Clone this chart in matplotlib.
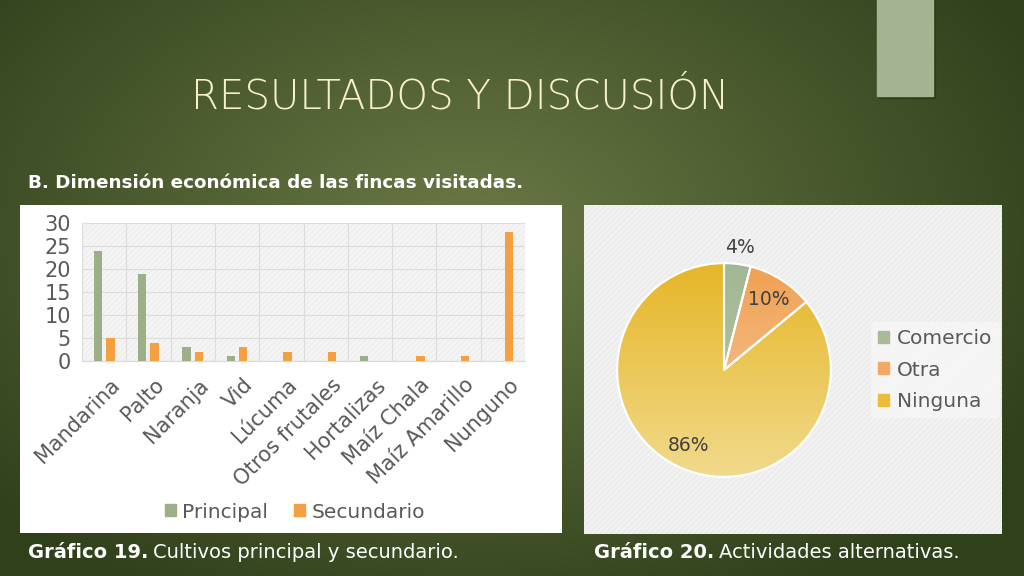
import numpy as np
import matplotlib
matplotlib.use("Agg")
import matplotlib.pyplot as plt
from matplotlib import rcParams
from matplotlib.patches import Rectangle, Patch

rcParams['font.family'] = ['DejaVu Sans']
rcParams['hatch.linewidth'] = 0.4

# data
cultivos = ['Mandarina', 'Palto', 'Naranja', 'Vid', 'Lúcuma', 'Otros frutales',
            'Hortalizas', 'Maíz Chala', 'Maíz Amarillo', 'Nunguno']
principal = [24, 19, 3, 1, 0, 0, 1, 0, 0, 0]
secundario = [5, 4, 2, 3, 2, 2, 0, 1, 1, 28]

actividades = ['Comercio', 'Otra', 'Ninguna']
porcentajes = [4, 10, 86]

W, H = 1024, 576
fig = plt.figure(figsize=(W / 100, H / 100), dpi=100)


def box(x0, y0, x1, y1):
    # pixel box (top-left origin) -> figure fraction
    return [x0 / W, 1 - y1 / H, (x1 - x0) / W, (y1 - y0) / H]


# slide background: radial olive gradient
bg = fig.add_axes([0, 0, 1, 1], zorder=-10)
yy, xx = np.mgrid[0:H, 0:W]
d = np.sqrt(((xx - 470) / 640.0) ** 2 + ((yy - 230) / 420.0) ** 2)
d = np.clip(d, 0, 1)
c0 = np.array([0x6a, 0x79, 0x45]) / 255
c1 = np.array([0x30, 0x40, 0x1b]) / 255
img = c0[None, None, :] * (1 - d[..., None]) + c1[None, None, :] * d[..., None]
bg.imshow(img, extent=(0, W, H, 0), aspect='auto')
bg.set_xlim(0, W)
bg.set_ylim(H, 0)
bg.axis('off')
bg.add_patch(Rectangle((879, -2), 56, 100, color='#2a3514', alpha=0.5))
bg.add_patch(Rectangle((877, -2), 56, 98, color='#a4b391'))
bg.add_patch(Rectangle((20, 205), 542, 328, facecolor='white', edgecolor='none'))
bg.add_patch(Rectangle((584, 205), 418, 329, facecolor='#f1f1f1',
                       edgecolor='#e4e4e4', hatch='//////', linewidth=0))

fig.text(460 / W, 1 - 97 / H, 'RESULTADOS Y DISCUSIÓN', color='#f7f1c9',
         fontsize=29, fontweight=200, ha='center', va='center')
fig.text(28 / W, 1 - 183 / H, 'B. Dimensión económica de las fincas visitadas.',
         color='white', fontsize=13.2, fontweight='bold', va='center')

# bar chart
ax = fig.add_axes(box(82, 223, 525, 361))
x = np.arange(len(cultivos))
ax.set_facecolor('#f4f4f4')
ax.patch.set_hatch('//////')
ax.patch.set_edgecolor('#e6e6e6')
ax.bar(x - 0.14, principal, width=0.19, color='#9caf88', label='Principal', zorder=3)
ax.bar(x + 0.14, secundario, width=0.19, color='#f4a040', label='Secundario', zorder=3)
ax.set_xlim(-0.5, len(cultivos) - 0.5)
ax.set_ylim(0, 30)
ax.set_yticks(range(0, 31, 5))
ax.set_xticks(x + 0.12)
ax.set_xticklabels(cultivos, rotation=45, ha='right', rotation_mode='anchor')
ax.set_xticks(np.arange(-0.5, len(cultivos)), minor=True)
ax.grid(True, axis='x', which='minor', color='#dcdcdc', linewidth=0.8, zorder=0)
ax.grid(True, axis='y', which='major', color='#dcdcdc', linewidth=0.8, zorder=0)
ax.tick_params(axis='both', which='both', length=0, labelcolor='#595959')
ax.tick_params(axis='y', labelsize=15, pad=8)
ax.tick_params(axis='x', labelsize=15, pad=10)
for s in ax.spines.values():
    s.set_visible(False)
ax.spines['bottom'].set_visible(True)
ax.spines['bottom'].set_color('#d9d9d9')

h1, l1 = ax.get_legend_handles_labels()
fig.legend([Patch(color='#9caf88'), Patch(color='#f4a040')], l1,
           loc='center', bbox_to_anchor=(295 / W, 1 - 512 / H), ncol=2,
           frameon=False, fontsize=14.5, labelcolor='#595959',
           handlelength=0.55, handleheight=0.55, handletextpad=0.3, columnspacing=1.3)

# pie chart
pax = fig.add_axes(box(724 - 109, 370 - 109, 724 + 109, 370 + 109))
pie_colors = ['#a7bb98', '#f3a864', '#e9bd3a']
wedges, texts, autotexts = pax.pie(
    porcentajes, colors=pie_colors, startangle=90, counterclock=False,
    autopct='%d%%', pctdistance=0.78, radius=1,
    wedgeprops=dict(edgecolor='white', linewidth=1.5),
    textprops=dict(color='#404040', fontsize=13.5))

# vertical gradient inside each wedge
grads = [('#a2b793', '#b9c9ad'), ('#f0a050', '#f7cfae'), ('#e6b627', '#f1da8c')]
for w, (top, bot) in zip(wedges, grads):
    ct = np.array(matplotlib.colors.to_rgb(top))
    cb = np.array(matplotlib.colors.to_rgb(bot))
    t = np.linspace(0, 1, 200)[:, None, None]
    g = ct * (1 - t) + cb * t
    g = np.repeat(g, 2, axis=1)
    im = pax.imshow(g, extent=(-1, 1, -1, 1), aspect='auto', zorder=w.get_zorder() + 0.1)
    im.set_clip_path(w)
for w in wedges:
    w.set_facecolor('none')
    w.set_zorder(5)

# Comercio label sits outside the slice
w0 = wedges[0]
ang = np.deg2rad((w0.theta1 + w0.theta2) / 2)
autotexts[0].set_position((1.16 * np.cos(ang), 1.16 * np.sin(ang)))
for t in autotexts:
    t.set_zorder(6)
pax.set_xlim(-1.02, 1.02)
pax.set_ylim(-1.02, 1.02)
pax.set_aspect('equal')
pax.axis('off')

leg = fig.legend([Patch(color=c) for c in pie_colors], actividades,
                 loc='center left', bbox_to_anchor=(861 / W, 1 - 370 / H),
                 frameon=True, fontsize=14.5, labelcolor='#595959',
                 handlelength=0.55, handleheight=0.55, handletextpad=0.4,
                 labelspacing=0.62, borderpad=0.35)
leg.get_frame().set_facecolor('#f7f7f7')
leg.get_frame().set_edgecolor('none')

# captions
t = fig.text(28 / W, 1 - 552 / H, 'Gráfico 19.', color='white', fontsize=14,
             fontweight='bold', va='center')
fig.canvas.draw()
bb = t.get_window_extent()
fig.text(bb.x1 / W + 0.005, 1 - 552 / H, 'Cultivos principal y secundario.',
         color='white', fontsize=14, va='center')
t2 = fig.text(594 / W, 1 - 552 / H, 'Gráfico 20.', color='white', fontsize=14,
              fontweight='bold', va='center')
bb2 = t2.get_window_extent()
fig.text(bb2.x1 / W + 0.005, 1 - 552 / H, 'Actividades alternativas.',
         color='white', fontsize=14, va='center')

fig.savefig('out.png', dpi=100)
